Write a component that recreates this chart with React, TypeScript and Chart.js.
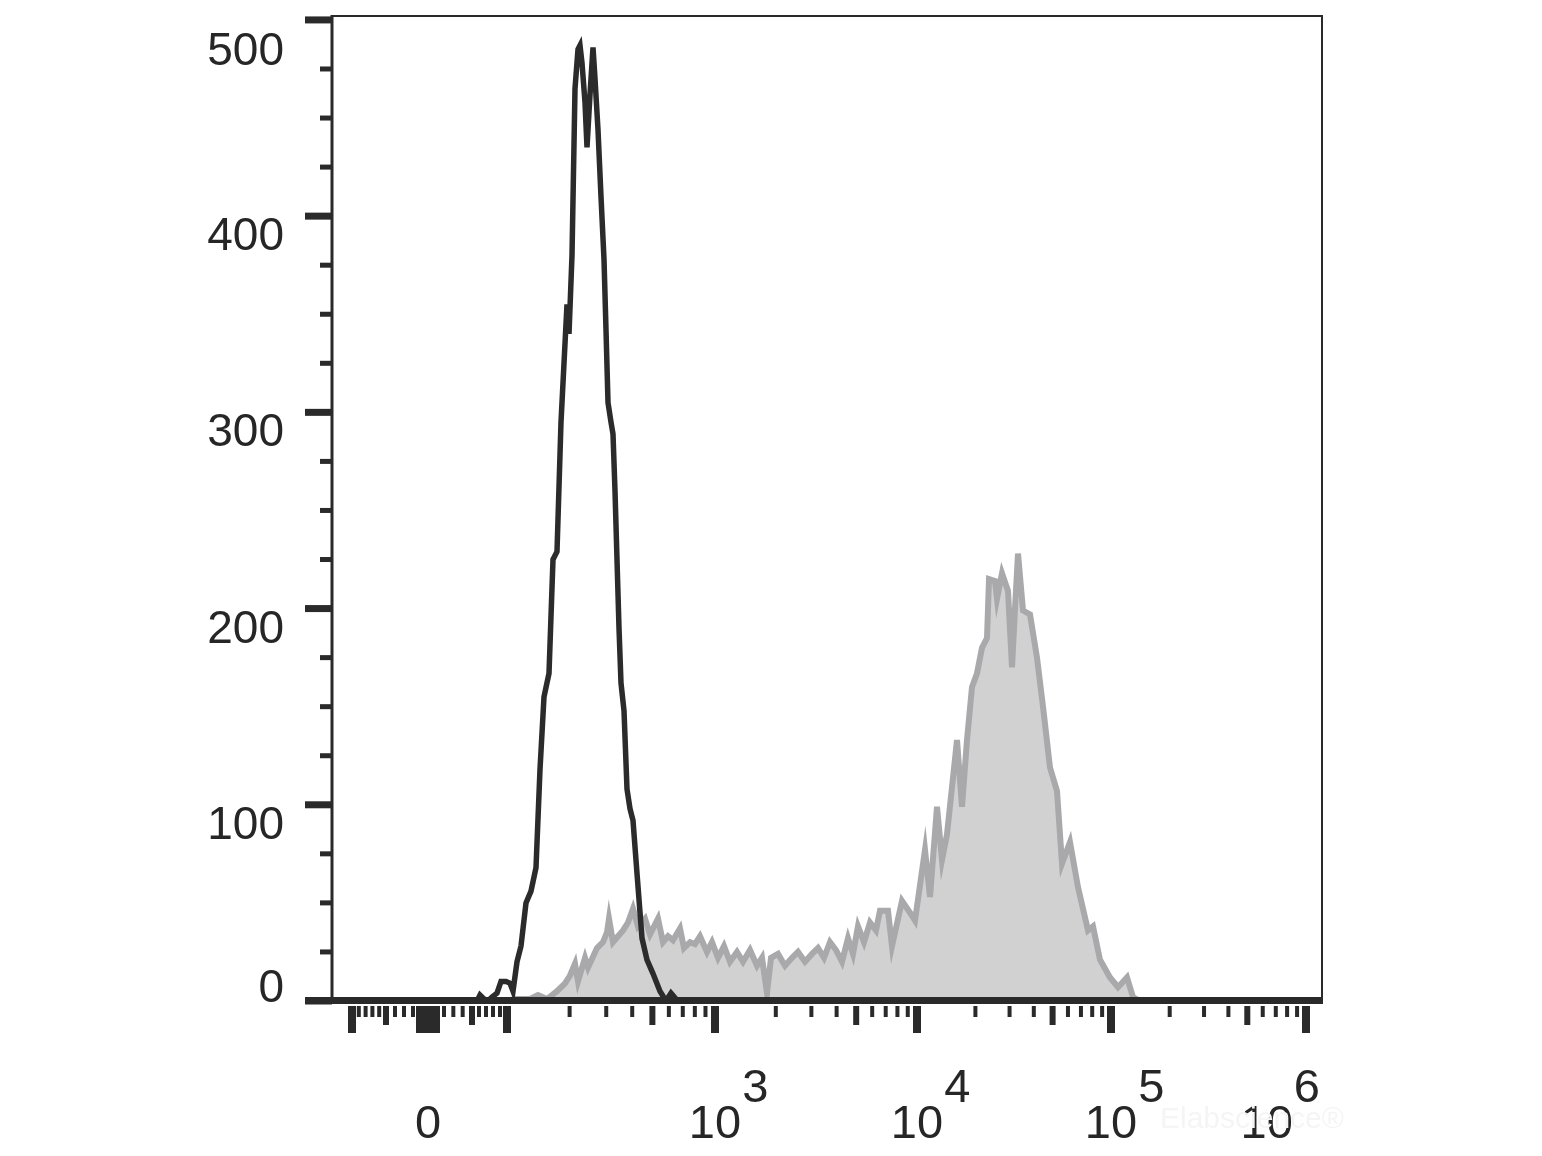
import React, { useEffect, useRef } from 'react';
import { Chart, registerables } from 'chart.js';

Chart.register(...registerables);

// ---- Data (x in display channels of the biexponential axis, y in cell counts) ----
const blackChannels = [
  -96, 49, 52, 56, 60, 64, 69, 73, 78, 82, 85, 89, 93, 98, 103, 108, 112, 116, 121, 125, 129, 133,
  137, 139, 141, 144, 147, 150, 152, 154, 157, 159, 162, 165, 167, 170, 173, 176, 178, 180, 183,
  185, 187, 189, 191, 193, 196, 199, 202, 205, 209, 214, 219, 225, 232, 238, 243, 248, 253, 894,
];
const blackCounts = [
  0, 0, 3, 1, 0, 2, 4, 10, 10, 9, 5, 20, 28, 50, 56, 68, 118, 155, 167, 225, 229, 295,
  335, 355, 340, 380, 465, 485, 487, 478, 458, 435, 462, 486, 470, 444, 410, 378, 342, 305, 295,
  289, 260, 225, 190, 162, 148, 108, 98, 92, 65, 32, 21, 14, 5, 0, 4, 1, 0, 0,
];

const grayChannels = [
  -96, 77, 87, 102, 110, 119, 129, 137, 142, 147, 150, 157, 160, 169, 175, 179, 181, 185, 190, 195,
  200, 205, 210, 217, 222, 230, 235, 240, 245, 252, 256, 262, 267, 272, 279, 284, 290, 296, 302,
  309, 315, 322, 329, 334, 339, 343, 350, 357, 364, 370, 377, 384, 390, 396, 402, 408, 414, 420,
  425, 430, 436, 442, 448, 452, 460, 464, 474, 482, 487, 497, 502, 509, 514, 519, 529, 534, 539,
  544, 549, 554, 559, 561, 567, 569, 574, 580, 584, 587, 590, 595, 602, 609, 615, 622, 629, 634,
  642, 650, 660, 665, 672, 682, 690, 699, 705, 712, 894,
];
const grayCounts = [
  0, 0, 1, 1, 3, 1, 5, 9, 13, 19, 10, 22, 17, 27, 30, 35, 42, 30, 33, 36,
  40, 47, 38, 42, 34, 42, 30, 33, 31, 37, 27, 30, 29, 33, 25, 30, 22, 28, 20,
  25, 20, 26, 18, 22, 4, 22, 24, 18, 22, 25, 20, 24, 27, 22, 30, 26, 20, 32,
  24, 38, 30, 40, 36, 46, 46, 28, 51, 45, 41, 77, 53, 99, 72, 85, 133, 99, 133,
  160, 167, 180, 185, 215, 214, 205, 218, 209, 170, 200, 228, 199, 197, 175, 150, 119, 107, 70,
  81, 58, 36, 38, 21, 12, 7, 12, 2, 0, 0,
];

// ---- Axis definitions ----
const X_MIN = -96;
const X_MAX = 894;
const Y_MAX = 502;
const yTickValues = [0, 100, 200, 300, 400, 500];
const yMinorStep = 25;
const xLabelValues = [0, 1e3, 1e4, 1e5, 1e6];
const xLabelBases = ['0', '10', '10', '10', '10'];
const xLabelExps = ['', '3', '4', '5', '6'];

// biexponential display transform: value -> display channel
const linAnchors: [number, number][] = [
  [-100, -76], [-50, -42], [-20, -15], [-10, -8], [0, 0], [10, 8], [20, 16], [50, 44], [100, 79],
];
const logAnchors: [number, number][] = [
  [1e2, 79], [1e3, 287], [1e4, 489], [1e5, 683], [1e6, 878],
];

function toChannel(v: number): number {
  if (v <= 100) {
    for (let i = 0; i < linAnchors.length - 1; i++) {
      const [v0, c0] = linAnchors[i];
      const [v1, c1] = linAnchors[i + 1];
      if (v >= v0 && v <= v1) return c0 + ((v - v0) / (v1 - v0)) * (c1 - c0);
    }
    return linAnchors[0][1];
  }
  for (let i = 0; i < logAnchors.length - 1; i++) {
    const [v0, c0] = logAnchors[i];
    const [v1, c1] = logAnchors[i + 1];
    if (v >= v0 && v <= v1) {
      return c0 + ((Math.log10(v) - Math.log10(v0)) / (Math.log10(v1) - Math.log10(v0))) * (c1 - c0);
    }
  }
  return logAnchors[logAnchors.length - 1][1];
}

type XTick = { v: number; kind: 'long' | 'mid' | 'short' };
function buildXTicks(): XTick[] {
  const t: XTick[] = [];
  t.push({ v: -100, kind: 'long' });
  for (let k = -90; k <= 90; k += 10) {
    if (k === 0) { t.push({ v: 0, kind: 'long' }); continue; }
    const a = Math.abs(k);
    t.push({ v: k, kind: a === 10 ? 'long' : a === 50 ? 'mid' : 'short' });
  }
  for (let d = 2; d <= 5; d++) {
    const base = Math.pow(10, d);
    t.push({ v: base, kind: 'long' });
    for (let m = 2; m <= 9; m++) t.push({ v: m * base, kind: m === 5 ? 'mid' : 'short' });
  }
  t.push({ v: 1e6, kind: 'long' });
  return t;
}

const INK = '#2a2a2a';
const FONT = '"Liberation Sans", Arial, Helvetica, sans-serif';

const flowAxes = {
  id: 'flowAxes',
  afterDatasetsDraw(chart: any) {
    const { ctx, chartArea: a, scales } = chart;
    const x = scales.x;
    const y = scales.y;
    const y0 = y.getPixelForValue(0);
    ctx.save();
    ctx.fillStyle = INK;
    // frame
    ctx.fillRect(a.left - 1.5, a.top - 1, 3, y0 - a.top + 1);
    ctx.fillRect(a.left, a.top - 1, a.right - a.left + 1, 2);
    ctx.fillRect(a.right - 1, a.top - 1, 2, y0 - a.top);
    // y ticks
    for (let v = 0; v <= 500; v += yMinorStep) {
      const py = y.getPixelForValue(v);
      if (v % 100 === 0) ctx.fillRect(a.left - 27, py - 3.5, 27, 7);
      else ctx.fillRect(a.left - 12, py - 2.5, 12, 5);
    }
    // bottom axis bar
    ctx.fillRect(a.left - 27, y0 - 4, a.right + 1 - (a.left - 27), 7);
    // x ticks
    const tickTop = y0 + 5;
    for (const tk of buildXTicks()) {
      const px = x.getPixelForValue(toChannel(tk.v));
      let len = 11, w = 4;
      if (tk.kind === 'long') { len = 27; w = 8; }
      else if (tk.kind === 'mid') { len = 19; w = 6; }
      ctx.fillRect(px - w / 2, tickTop, w, len);
    }
    // y labels
    ctx.fillStyle = '#262626';
    ctx.font = `46px ${FONT}`;
    ctx.textAlign = 'right';
    ctx.textBaseline = 'alphabetic';
    yTickValues.forEach((v) => {
      const py = y.getPixelForValue(v);
      const base = v === 0 ? py + 1 : Math.max(py + 34, a.top + 49);
      ctx.fillText(String(v), a.left - 48, base);
    });
    // x labels
    ctx.font = `47px ${FONT}`;
    const baseY = y0 + 137;
    const expY = y0 + 101;
    xLabelValues.forEach((v, i) => {
      const px = x.getPixelForValue(toChannel(v));
      const b = xLabelBases[i];
      const e = xLabelExps[i];
      const w1 = ctx.measureText(b).width;
      const w2 = e ? ctx.measureText(e).width : 0;
      let left = px - w1 / 2;
      const right = left + w1 + (e ? 1 + w2 : 0);
      if (right > a.right - 2) left -= right - (a.right - 2);
      ctx.textAlign = 'left';
      ctx.fillText(b, left, baseY);
      if (e) ctx.fillText(e, left + w1 + 1, expY);
    });
    // faint watermark
    ctx.fillStyle = '#f5f5f5';
    ctx.font = `30px ${FONT}`;
    ctx.fillText('Elabscience\u00AE', a.right - 162, y0 + 127);
    ctx.restore();
  },
};

export default function App() {
  const ref = useRef<HTMLCanvasElement | null>(null);
  useEffect(() => {
    document.body.style.margin = '0';
    const canvas = ref.current;
    if (!canvas) return;
    const chart = new Chart(canvas, {
      type: 'line',
      data: {
        datasets: [
          {
            label: 'control',
            data: blackChannels.map((c, i) => ({ x: c, y: blackCounts[i] })),
            borderColor: '#2b2b2b',
            borderWidth: 5.5,
            pointRadius: 0,
            tension: 0,
            fill: false,
            borderJoinStyle: 'miter',
            order: 0,
          },
          {
            label: 'stained',
            data: grayChannels.map((c, i) => ({ x: c, y: grayCounts[i] })),
            borderColor: '#a9a9ab',
            backgroundColor: '#d1d1d1',
            borderWidth: 6,
            pointRadius: 0,
            tension: 0,
            fill: 'origin',
            borderJoinStyle: 'miter',
            order: 1,
          },
        ],
      },
      options: {
        animation: false,
        responsive: false,
        devicePixelRatio: 1,
        layout: { padding: { left: 332, right: 220, top: 16, bottom: 155 } },
        scales: {
          x: { type: 'linear', min: X_MIN, max: X_MAX, display: false },
          y: { type: 'linear', min: 0, max: Y_MAX, display: false },
        },
        plugins: { legend: { display: false }, tooltip: { enabled: false } },
        events: [],
      },
      plugins: [flowAxes],
    } as any);
    return () => chart.destroy();
  }, []);
  return (
    <div style={{ position: 'fixed', left: 0, top: 0, width: 1542, height: 1156, background: '#fff' }}>
      <canvas ref={ref} width={1542} height={1156} />
    </div>
  );
}
